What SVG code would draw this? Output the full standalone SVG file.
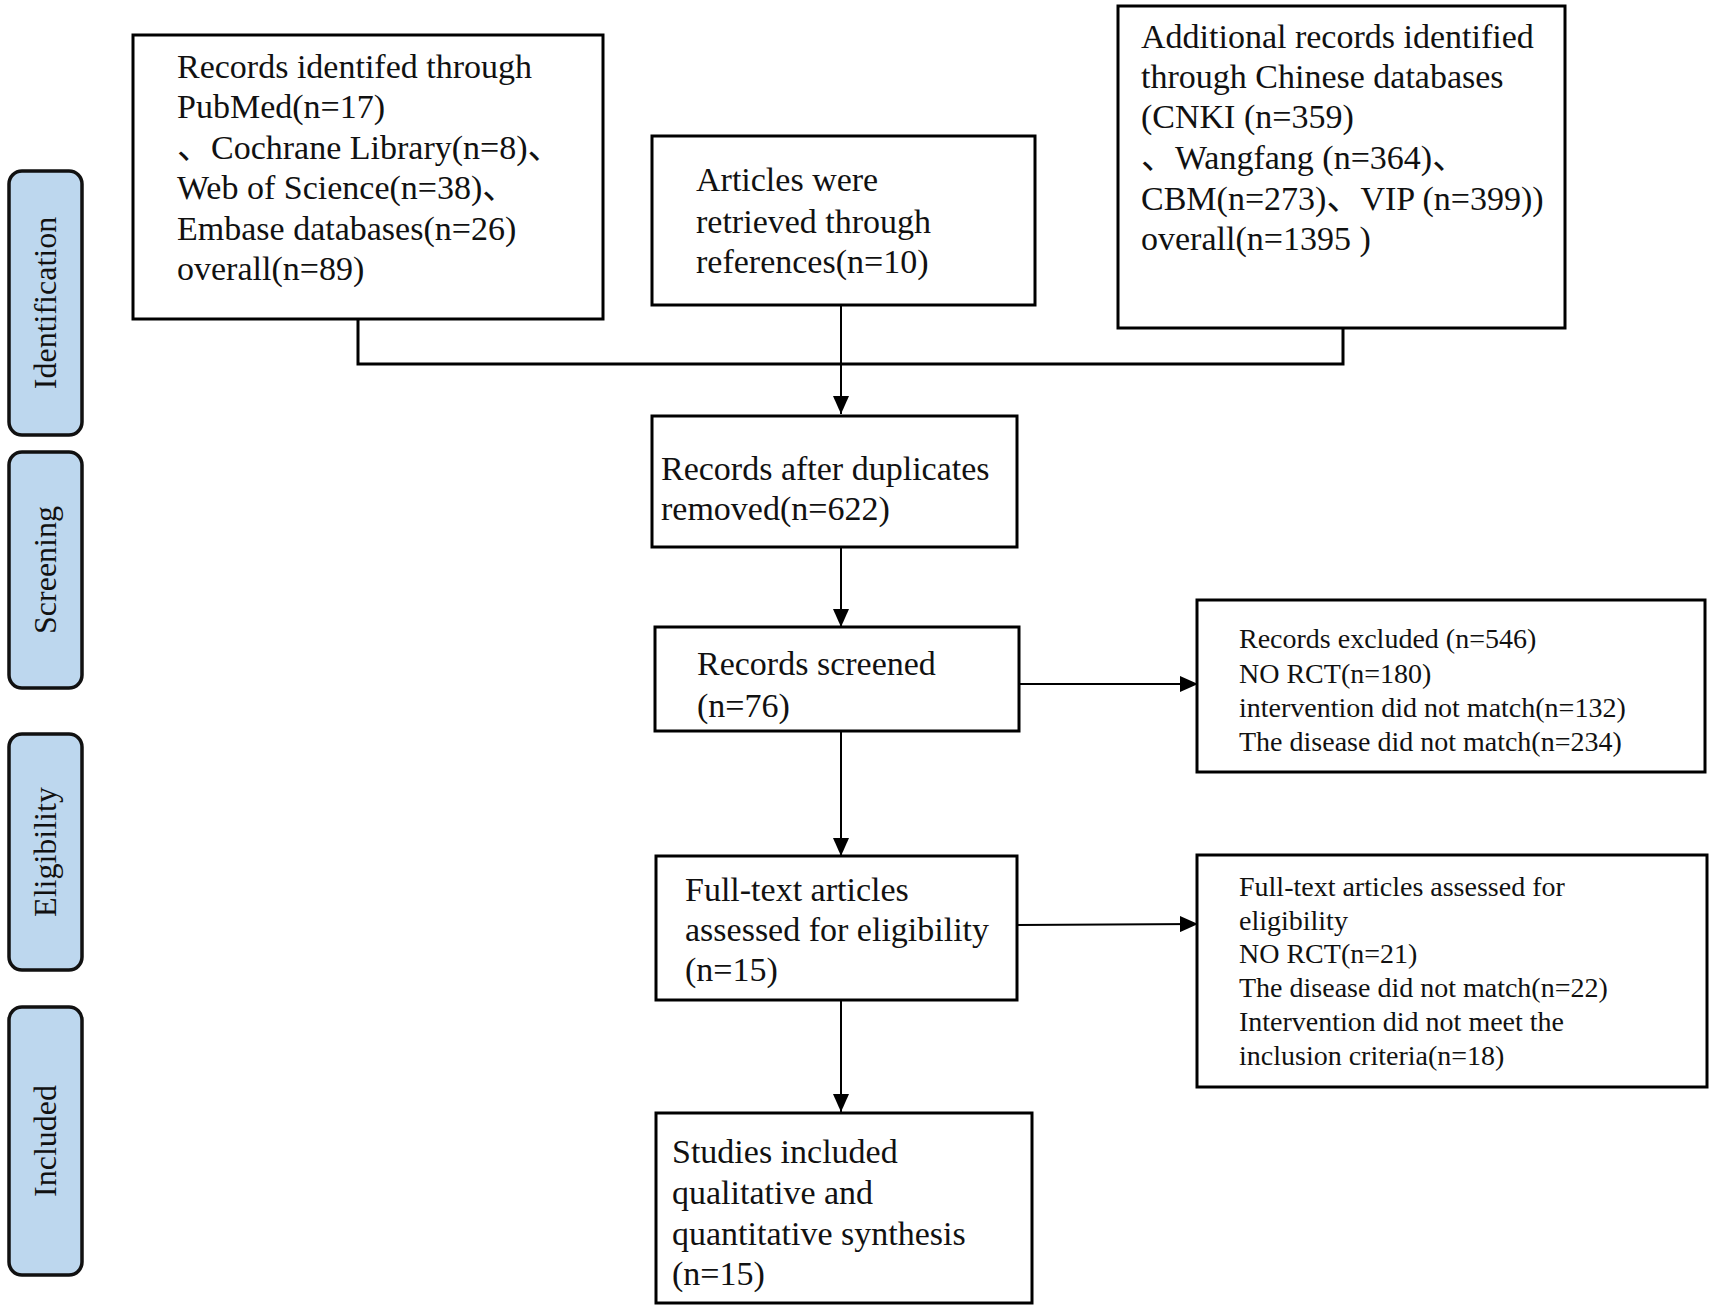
<svg xmlns="http://www.w3.org/2000/svg" width="1712" height="1310" viewBox="0 0 1712 1310">
<style>
.box{fill:#fff;stroke:#000;stroke-width:3}
.stage{fill:#bdd7ee;stroke:#111;stroke-width:3.5}
.t{font-family:"Liberation Serif","Times New Roman","Noto Sans CJK SC",serif;font-size:34px;fill:#111}
.s{font-family:"Liberation Serif","Times New Roman","Noto Sans CJK SC",serif;font-size:28px;fill:#111}
.lab{font-family:"Liberation Serif","Times New Roman",serif;font-size:32px;fill:#111;text-anchor:middle}
.c{fill:none;stroke:#000;stroke-width:3}
.a{fill:none;stroke:#000;stroke-width:2}
</style>
<defs>
<marker id="arr" viewBox="0 0 10 10" refX="10" refY="5" markerWidth="9" markerHeight="9" markerUnits="userSpaceOnUse" orient="auto">
<path d="M0,0 L10,5 L0,10 z" fill="#000"/>
</marker>
<marker id="ah" viewBox="0 0 18 16" refX="18" refY="8" markerWidth="18" markerHeight="16" markerUnits="userSpaceOnUse" orient="auto">
<path d="M0,0 L18,8 L0,16 z" fill="#000"/>
</marker>
</defs>

<g id="stage-identification">
<rect class="stage" x="9" y="171" width="73" height="264" rx="13"/>
<text class="lab" transform="translate(56,303) rotate(-90)">Identification</text>
</g>
<g id="stage-screening">
<rect class="stage" x="9" y="452" width="73" height="236" rx="13"/>
<text class="lab" transform="translate(56,570) rotate(-90)">Screening</text>
</g>
<g id="stage-eligibility">
<rect class="stage" x="9" y="734" width="73" height="236" rx="13"/>
<text class="lab" transform="translate(56,852) rotate(-90)">Eligibility</text>
</g>
<g id="stage-included">
<rect class="stage" x="9" y="1007" width="73" height="268" rx="13"/>
<text class="lab" transform="translate(56,1141) rotate(-90)">Included</text>
</g>

<g id="connectors">
<polyline class="c" points="358,319 358,364 1343,364 1343,328"/>
<line class="a" x1="841" y1="305" x2="841" y2="414" marker-end="url(#ah)"/>
<line class="a" x1="841" y1="547" x2="841" y2="627" marker-end="url(#ah)"/>
<line class="a" x1="1019" y1="684" x2="1198" y2="684" marker-end="url(#ah)"/>
<line class="a" x1="841" y1="731" x2="841" y2="856" marker-end="url(#ah)"/>
<line class="a" x1="1017" y1="925" x2="1198" y2="924" marker-end="url(#ah)"/>
<line class="a" x1="841" y1="1000" x2="841" y2="1112" marker-end="url(#ah)"/>
</g>

<g id="node-pubmed">
<rect class="box" x="133" y="35" width="470" height="284"/>
<text class="t" x="177" y="78">Records identifed through</text>
<text class="t" x="177" y="118">PubMed(n=17)</text>
<text class="t" x="177" y="159">、Cochrane Library(n=8)、</text>
<text class="t" x="177" y="199">Web of Science(n=38)、</text>
<text class="t" x="177" y="240">Embase databases(n=26)</text>
<text class="t" x="177" y="280">overall(n=89)</text>
</g>

<g id="node-references">
<rect class="box" x="652" y="136" width="383" height="169"/>
<text class="t" x="696" y="191">Articles were</text>
<text class="t" x="696" y="233">retrieved through</text>
<text class="t" x="696" y="273">references(n=10)</text>
</g>

<g id="node-chinese">
<rect class="box" x="1118" y="6" width="447" height="322"/>
<text class="t" x="1141" y="48">Additional records identified</text>
<text class="t" x="1141" y="88">through Chinese databases</text>
<text class="t" x="1141" y="128">(CNKI (n=359)</text>
<text class="t" x="1141" y="169">、Wangfang (n=364)、</text>
<text class="t" x="1141" y="210">CBM(n=273)、VIP (n=399))</text>
<text class="t" x="1141" y="250">overall(n=1395 )</text>
</g>

<g id="node-duplicates">
<rect class="box" x="652" y="416" width="365" height="131"/>
<text class="t" x="661" y="480">Records after duplicates</text>
<text class="t" x="661" y="520">removed(n=622)</text>
</g>

<g id="node-screened">
<rect class="box" x="655" y="627" width="364" height="104"/>
<text class="t" x="697" y="675">Records screened</text>
<text class="t" x="697" y="717">(n=76)</text>
</g>

<g id="node-excluded">
<rect class="box" x="1197" y="600" width="508" height="172"/>
<text class="s" x="1239" y="648">Records excluded (n=546)</text>
<text class="s" x="1239" y="683">NO RCT(n=180)</text>
<text class="s" x="1239" y="717">intervention did not match(n=132)</text>
<text class="s" x="1239" y="751">The disease did not match(n=234)</text>
</g>

<g id="node-fulltext">
<rect class="box" x="656" y="856" width="361" height="144"/>
<text class="t" x="685" y="901">Full-text articles</text>
<text class="t" x="685" y="941">assessed for eligibility</text>
<text class="t" x="685" y="981">(n=15)</text>
</g>

<g id="node-fulltext-excluded">
<rect class="box" x="1197" y="855" width="510" height="232"/>
<text class="s" x="1239" y="896">Full-text articles assessed for</text>
<text class="s" x="1239" y="930">eligibility</text>
<text class="s" x="1239" y="963">NO RCT(n=21)</text>
<text class="s" x="1239" y="997">The disease did not match(n=22)</text>
<text class="s" x="1239" y="1031">Intervention did not meet the</text>
<text class="s" x="1239" y="1065">inclusion criteria(n=18)</text>
</g>

<g id="node-included">
<rect class="box" x="656" y="1113" width="376" height="190"/>
<text class="t" x="672" y="1163">Studies included</text>
<text class="t" x="672" y="1204">qualitative and</text>
<text class="t" x="672" y="1245">quantitative synthesis</text>
<text class="t" x="672" y="1285">(n=15)</text>
</g>
</svg>
